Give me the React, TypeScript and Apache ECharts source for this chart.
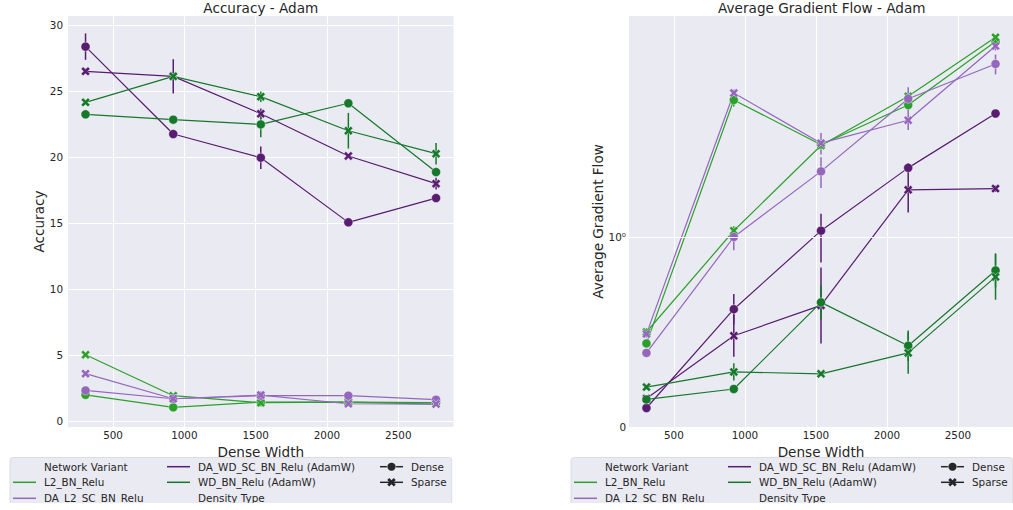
import React, { useEffect, useRef } from "react";
import * as echarts from "echarts";

// Dense widths shared by both panels
const widths = [307, 922, 1536, 2150, 2765];

const variants = [
  "L2_BN_Relu",
  "DA_L2_SC_BN_Relu",
  "DA_WD_SC_BN_Relu (AdamW)",
  "WD_BN_Relu (AdamW)",
];
const variantColors = ["#2ca02c", "#9467bd", "#581c70", "#16782a"];
const densityTypes = ["Dense", "Sparse"];

// Accuracy (mean and CI half-width)
const accL2Dense = [1.99, 1.04, 1.44, 1.44, 1.4];
const accL2Sparse = [5.02, 1.92, 1.39, 1.44, 1.29];
const accDAL2Dense = [2.32, 1.69, 1.92, 1.92, 1.62];
const accDAL2Sparse = [3.59, 1.69, 1.97, 1.31, 1.29];
const accDAWDDense = [28.36, 21.74, 19.95, 15.05, 16.89];
const accDAWDSparse = [26.49, 26.11, 23.28, 20.08, 17.98];
const accWDDense = [23.23, 22.83, 22.47, 24.07, 18.86];
const accWDSparse = [24.14, 26.11, 24.57, 21.99, 20.25];

const accErrL2Dense = [0.1, 0.1, 0.1, 0.1, 0.1];
const accErrL2Sparse = [0.1, 0.15, 0.1, 0.1, 0.1];
const accErrDAL2Dense = [0.1, 0.1, 0.1, 0.3, 0.1];
const accErrDAL2Sparse = [0.15, 0.1, 0.15, 0.1, 0.1];
const accErrDAWDDense = [1.0, 0.15, 0.85, 0.1, 0.15];
const accErrDAWDSparse = [0.2, 1.3, 0.4, 0.15, 0.45];
const accErrWDDense = [0.15, 0.15, 0.97, 0.2, 0.2];
const accErrWDSparse = [0.15, 0.3, 0.4, 1.35, 0.82];

// Average gradient flow (mean and CI half-width)
const gfL2Dense = [0.44, 3.99, 2.54, 3.79, 7.21];
const gfL2Sparse = [0.5, 1.065, 2.52, 4.14, 7.51];
const gfDAL2Dense = [0.39, 1.0, 1.94, 4.04, 5.74];
const gfDAL2Sparse = [0.49, 4.28, 2.58, 3.25, 6.88];
const gfDAWDDense = [0.1, 0.62, 1.066, 2.01, 3.48];
const gfDAWDSparse = [0.15, 0.48, 0.64, 1.61, 1.63];
const gfWDDense = [0.145, 0.2, 0.656, 0.428, 0.824];
const gfWDSparse = [0.21, 0.29, 0.28, 0.39, 0.79];

const gfErrL2Dense = [0.02, 0.25, 0.05, 0.15, 0.2];
const gfErrL2Sparse = [0.02, 0.05, 0.08, 0.15, 0.15];
const gfErrDAL2Dense = [0.02, 0.07, 0.3, 0.5, 0.57];
const gfErrDAL2Sparse = [0.02, 0.15, 0.28, 0.3, 0.3];
const gfErrDAWDDense = [0.01, 0.08, 0.2, 0.1, 0.1];
const gfErrDAWDSparse = [0.01, 0.11, 0.2, 0.33, 0.05];
const gfErrWDDense = [0.01, 0.01, 0.09, 0.08, 0.09];
const gfErrWDSparse = [0.01, 0.045, 0.01, 0.11, 0.12];

const accMeans = [
  [accL2Dense, accL2Sparse],
  [accDAL2Dense, accDAL2Sparse],
  [accDAWDDense, accDAWDSparse],
  [accWDDense, accWDSparse],
];
const accErrs = [
  [accErrL2Dense, accErrL2Sparse],
  [accErrDAL2Dense, accErrDAL2Sparse],
  [accErrDAWDDense, accErrDAWDSparse],
  [accErrWDDense, accErrWDSparse],
];
const gfMeans = [
  [gfL2Dense, gfL2Sparse],
  [gfDAL2Dense, gfDAL2Sparse],
  [gfDAWDDense, gfDAWDSparse],
  [gfWDDense, gfWDSparse],
];
const gfErrs = [
  [gfErrL2Dense, gfErrL2Sparse],
  [gfErrDAL2Dense, gfErrDAL2Sparse],
  [gfErrDAWDDense, gfErrDAWDSparse],
  [gfErrWDDense, gfErrWDSparse],
];

// Symmetric-log style scale: linear up to 1, logarithmic above
const SYMLOG_DECADE = 1.2;
const symlog = (v: number) => (v <= 1 ? v : 1 + SYMLOG_DECADE * Math.log10(v));
const identity = (v: number) => v;

const FONT = '"DejaVu Sans", sans-serif';
const TEXT = "#262626";
// Filled, chunky "X" marker outline on a 10x10 box
const X_POINTS = [
  [2.3, 0], [5, 2.7], [7.7, 0], [10, 2.3], [7.3, 5], [10, 7.7],
  [7.7, 10], [5, 7.3], [2.3, 10], [0, 7.7], [2.7, 5], [0, 2.3],
];
const X_PATH =
  "path://" +
  X_POINTS.map(([x, y], i) => `${i === 0 ? "M" : "L"}${x},${y}`).join(" ") +
  " Z";

const GRID_W = 385.6;
const GRID_TOP = 16;
const GRID_H = 411;
const GRID_LEFTS = [68, 629];

function buildSeries(
  panel: number,
  means: number[][][],
  errs: number[][][],
  tf: (v: number) => number
) {
  const out: any[] = [];
  variants.forEach((name, vi) => {
    densityTypes.forEach((dt, di) => {
      const m = means[vi][di];
      const e = errs[vi][di];
      const color = variantColors[vi];
      out.push({
        type: "custom",
        xAxisIndex: panel,
        yAxisIndex: panel,
        z: 3,
        silent: true,
        encode: { x: 0, y: [1, 2] },
        data: widths.map((w, i) => [w, tf(m[i] - e[i]), tf(m[i] + e[i])]),
        renderItem: (params: any, api: any) => {
          const p1 = api.coord([api.value(0), api.value(1)]);
          const p2 = api.coord([api.value(0), api.value(2)]);
          return {
            type: "line",
            shape: { x1: p1[0], y1: p1[1], x2: p2[0], y2: p2[1] },
            style: { stroke: color, lineWidth: 1.5 },
          };
        },
      });
      out.push({
        type: "line",
        name: `${name} ${dt}`,
        xAxisIndex: panel,
        yAxisIndex: panel,
        z: 4,
        data: widths.map((w, i) => [w, tf(m[i])]),
        symbol: di === 0 ? "circle" : X_PATH,
        symbolSize: 9,
        showSymbol: true,
        lineStyle: { color, width: 1.2 },
        itemStyle: { color, borderColor: "#ffffff", borderWidth: 0.4 },
        emphasis: { disabled: true },
      });
    });
  });
  return out;
}

function legendGraphics(offsetX: number) {
  const els: any[] = [];
  const rows = [466.7, 482.3, 498.3];
  const txt = (x: number, y: number, s: string) => ({
    type: "text",
    x: offsetX + x,
    y,
    style: {
      text: s,
      fill: TEXT,
      font: `10.4px ${FONT}`,
      textVerticalAlign: "middle",
      textAlign: "left",
    },
  });
  const handle = (x: number, y: number, color: string) => ({
    type: "line",
    shape: { x1: offsetX + x, y1: y, x2: offsetX + x + 23, y2: y },
    style: { stroke: color, lineWidth: 1.5 },
  });
  els.push({
    type: "rect",
    shape: { x: offsetX + 10, y: 457.5, width: 441.7, height: 70, r: 3 },
    style: { fill: "#eaeaf2", stroke: "#d6d6dc", lineWidth: 0.8 },
  });
  els.push(txt(44, rows[0], "Network Variant"));
  els.push(handle(13, rows[1], variantColors[0]));
  els.push(txt(44, rows[1], variants[0]));
  els.push(handle(13, rows[2], variantColors[1]));
  els.push(txt(44, rows[2], variants[1]));
  els.push(handle(167, rows[0], variantColors[2]));
  els.push(txt(198, rows[0], variants[2]));
  els.push(handle(167, rows[1], variantColors[3]));
  els.push(txt(198, rows[1], variants[3]));
  els.push(txt(198, rows[2], "Density Type"));
  els.push(handle(380, rows[0], "#262626"));
  els.push({
    type: "circle",
    shape: { cx: offsetX + 391.5, cy: rows[0], r: 4.3 },
    style: { fill: "#262626", stroke: "#ffffff", lineWidth: 0.5 },
  });
  els.push(txt(411, rows[0], densityTypes[0]));
  els.push(handle(380, rows[1], "#262626"));
  const cx = offsetX + 391.5;
  const cy = rows[1];
  const s = 0.85;
  els.push({
    type: "polygon",
    shape: { points: X_POINTS.map(([px, py]) => [cx + (px - 5) * s, cy + (py - 5) * s]) },
    style: { fill: "#262626" },
  });
  els.push(txt(411, rows[1], densityTypes[1]));
  return els;
}

export default function App() {
  const ref = useRef<HTMLDivElement>(null);
  useEffect(() => {
    if (!ref.current) return;
    const chart = echarts.init(ref.current, undefined, { renderer: "svg" });

    const xAxisBase = (gi: number) => ({
      type: "value",
      gridIndex: gi,
      min: 184,
      max: 2888,
      name: "Dense Width",
      nameLocation: "middle",
      nameGap: 7,
      nameTextStyle: { fontSize: 13.6, color: TEXT, fontFamily: FONT, verticalAlign: "top" },
      axisLine: { show: false },
      axisTick: { show: false },
      axisLabel: {
        color: TEXT,
        fontSize: 10.4,
        fontFamily: FONT,
        margin: 3,
        showMinLabel: false,
        showMaxLabel: false,
        formatter: (v: number) => String(Math.round(v)),
      },
      splitLine: {
        show: true,
        showMinLine: false,
        showMaxLine: false,
        lineStyle: { color: "#ffffff", width: 1 },
      },
    });

    const option: any = {
      animation: false,
      backgroundColor: "#ffffff",
      title: [
        {
          text: "Accuracy - Adam",
          left: GRID_LEFTS[0] + GRID_W / 2,
          top: 1,
          padding: 0,
          textAlign: "center",
          textStyle: { fontSize: 13.6, fontWeight: "normal", color: TEXT, fontFamily: FONT },
        },
        {
          text: "Average Gradient Flow - Adam",
          left: GRID_LEFTS[1] + GRID_W / 2,
          top: 1,
          padding: 0,
          textAlign: "center",
          textStyle: { fontSize: 13.6, fontWeight: "normal", color: TEXT, fontFamily: FONT },
        },
      ],
      grid: GRID_LEFTS.map((l) => ({
        left: l,
        top: GRID_TOP,
        width: GRID_W,
        height: GRID_H,
        show: true,
        backgroundColor: "#eaeaf2",
        borderWidth: 0,
        containLabel: false,
      })),
      xAxis: [xAxisBase(0), xAxisBase(1)],
      yAxis: [
        {
          type: "value",
          gridIndex: 0,
          min: -0.45,
          max: 30.68,
          name: "Accuracy",
          nameLocation: "middle",
          nameGap: 14,
          nameTextStyle: { fontSize: 13.6, color: TEXT, fontFamily: FONT },
          axisLine: { show: false },
          axisTick: { show: false },
          axisLabel: {
            color: TEXT,
            fontSize: 10.4,
            fontFamily: FONT,
            margin: 5,
            showMinLabel: false,
            showMaxLabel: false,
          },
          splitLine: {
            show: true,
            showMinLine: false,
            showMaxLine: false,
            lineStyle: { color: "#ffffff", width: 1 },
          },
        },
        {
          type: "value",
          gridIndex: 1,
          min: 0,
          max: GRID_H / 190,
          interval: 1,
          name: "Average Gradient Flow",
          nameLocation: "middle",
          nameGap: 21,
          nameTextStyle: { fontSize: 13.6, color: TEXT, fontFamily: FONT },
          axisLine: { show: false },
          axisTick: { show: false },
          axisLabel: {
            color: TEXT,
            fontSize: 10.4,
            fontFamily: FONT,
            margin: 3,
            showMaxLabel: false,
            formatter: (v: number) =>
              Math.abs(v) < 1e-9 ? "0" : Math.abs(v - 1) < 1e-9 ? "10⁰" : "",
          },
          splitLine: { show: false },
        },
      ],
      series: [
        {
          type: "line",
          xAxisIndex: 1,
          yAxisIndex: 1,
          data: [],
          z: 1,
          silent: true,
          markLine: {
            silent: true,
            symbol: "none",
            label: { show: false },
            lineStyle: { color: "#ffffff", width: 1, type: "solid" },
            data: [{ yAxis: symlog(1) }],
          },
        },
        ...buildSeries(0, accMeans, accErrs, identity),
        ...buildSeries(1, gfMeans, gfErrs, symlog),
      ],
      graphic: [
        ...legendGraphics(0),
        ...legendGraphics(561),
        // figure edge: the canvas ends below the third legend row
        {
          type: "rect",
          z: 100,
          shape: { x: 0, y: 503, width: 1013, height: 10 },
          style: { fill: "#ffffff" },
        },
      ],
    };

    chart.setOption(option);
    return () => chart.dispose();
  }, []);

  return (
    <div
      ref={ref}
      style={{ position: "fixed", left: 0, top: 0, width: 1013, height: 510 }}
    />
  );
}
